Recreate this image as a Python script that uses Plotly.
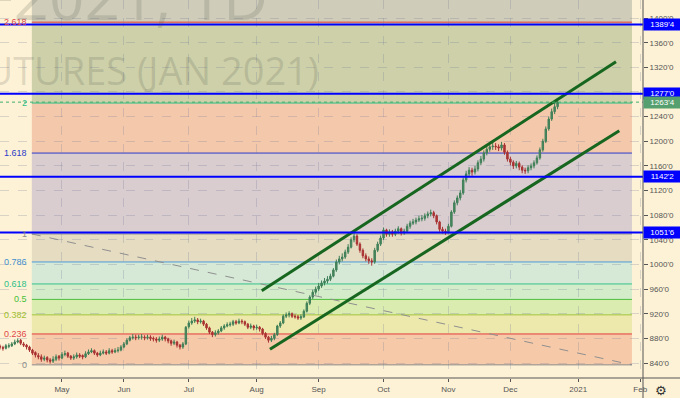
import pandas as pd
import plotly.graph_objects as go

# ---------------- data ----------------
open_ = [864, 867, 865, 864, 867, 868, 871, 874, 877, 871, 869, 866, 861, 857, 852, 850, 846, 849, 845, 843,
         846, 851, 848, 854, 856, 851, 848, 850, 853, 852, 850, 855, 858, 860, 856, 853, 856, 858, 856, 860,
         858, 860, 861, 866, 871, 877, 881, 882, 881, 882, 882, 881, 882, 880, 879, 877, 879, 882, 879, 876,
         872, 874, 869, 866, 871, 899, 905, 908, 910, 907, 908, 903, 897, 890, 886, 889, 892, 897, 900, 902,
         903, 907, 905, 908, 907, 903, 898, 900, 897, 898, 895, 888, 882, 877, 880, 886, 900, 905, 916, 918,
         920, 916, 915, 913, 915, 924, 937, 947, 955, 960, 965, 970, 973, 976, 981, 991, 1004, 1009, 1012, 1020,
         1028, 1040, 1046, 1033, 1023, 1014, 1009, 1006, 1004, 1023, 1033, 1043, 1056, 1049, 1053, 1049, 1054, 1058, 1051, 1054,
         1062, 1067, 1069, 1072, 1074, 1075, 1079, 1082, 1084, 1079, 1069, 1057, 1054, 1053, 1062, 1085, 1100, 1108, 1116, 1137,
         1147, 1153, 1150, 1155, 1165, 1171, 1181, 1187, 1191, 1192, 1191, 1189, 1194, 1182, 1171, 1166, 1160, 1164, 1158, 1153,
         1152, 1157, 1160, 1165, 1173, 1186, 1200, 1220, 1236, 1248, 1256]
close = [866, 866, 864, 868, 868, 871, 874, 876, 872, 869, 866, 861, 856, 853, 850, 846, 848, 845, 843, 846,
         850, 848, 854, 855, 851, 848, 850, 853, 851, 850, 855, 858, 860, 856, 853, 856, 858, 856, 860, 858,
         860, 861, 866, 871, 877, 881, 882, 881, 882, 882, 881, 882, 880, 879, 877, 879, 882, 879, 876, 872,
         874, 869, 866, 871, 898, 905, 908, 910, 907, 908, 903, 897, 890, 886, 889, 892, 897, 900, 902, 903,
         907, 905, 908, 907, 903, 898, 900, 897, 898, 895, 888, 882, 877, 880, 886, 900, 905, 916, 918, 920,
         916, 915, 913, 915, 924, 937, 947, 955, 960, 965, 970, 973, 976, 981, 991, 1004, 1009, 1012, 1020, 1028,
         1040, 1046, 1033, 1023, 1014, 1009, 1006, 1004, 1023, 1033, 1043, 1056, 1049, 1053, 1049, 1054, 1058, 1051, 1054, 1062,
         1067, 1069, 1072, 1074, 1075, 1079, 1082, 1084, 1079, 1069, 1057, 1054, 1053, 1062, 1085, 1100, 1108, 1116, 1137, 1147,
         1153, 1150, 1155, 1165, 1171, 1181, 1187, 1191, 1192, 1191, 1189, 1194, 1182, 1171, 1166, 1160, 1164, 1158, 1153, 1152,
         1157, 1160, 1165, 1173, 1186, 1200, 1220, 1236, 1248, 1256, 1263.5]
high = [869, 870, 868, 871, 872, 874, 878, 880, 879, 874, 871, 868, 863, 859, 856, 854, 852, 851, 848, 851,
        854, 853, 858, 860, 858, 853, 854, 857, 856, 854, 859, 862, 864, 862, 858, 860, 862, 861, 864, 863,
        864, 866, 869, 874, 880, 884, 887, 886, 886, 887, 885, 886, 885, 883, 882, 883, 886, 884, 881, 878,
        878, 876, 871, 874, 900, 909, 913, 915, 913, 912, 910, 905, 899, 892, 893, 895, 900, 903, 906, 907,
        910, 910, 912, 911, 909, 905, 904, 902, 902, 900, 897, 890, 884, 884, 889, 902, 908, 919, 922, 924,
        922, 919, 918, 919, 927, 940, 950, 959, 964, 970, 974, 978, 981, 985, 994, 1008, 1014, 1018, 1024, 1033,
        1044, 1052, 1049, 1036, 1026, 1018, 1013, 1010, 1027, 1037, 1047, 1060, 1058, 1057, 1056, 1058, 1062, 1060, 1058, 1066,
        1071, 1074, 1076, 1079, 1080, 1083, 1086, 1089, 1087, 1081, 1071, 1061, 1058, 1066, 1088, 1104, 1112, 1121, 1141, 1152,
        1158, 1157, 1160, 1169, 1176, 1185, 1192, 1197, 1198, 1197, 1195, 1199, 1197, 1185, 1175, 1169, 1168, 1167, 1161, 1157,
        1161, 1164, 1169, 1177, 1190, 1204, 1224, 1240, 1253, 1262, 1268]
low = [861, 862, 860, 862, 864, 866, 869, 872, 869, 866, 862, 858, 853, 849, 846, 842, 843, 841, 839, 840,
       843, 844, 846, 851, 848, 845, 845, 847, 848, 846, 848, 853, 856, 853, 850, 851, 854, 853, 854, 855,
       856, 857, 859, 864, 869, 875, 878, 877, 878, 878, 877, 878, 876, 875, 873, 874, 876, 875, 872, 868,
       869, 865, 862, 863, 869, 896, 902, 905, 903, 904, 900, 894, 887, 882, 883, 886, 890, 894, 898, 899,
       900, 902, 903, 903, 900, 895, 895, 893, 894, 891, 885, 879, 873, 874, 877, 884, 897, 903, 913, 914,
       913, 912, 910, 910, 913, 922, 934, 944, 951, 957, 962, 966, 969, 973, 979, 988, 1000, 1005, 1009, 1017,
       1026, 1036, 1030, 1019, 1010, 1005, 1001, 998, 1001, 1020, 1030, 1040, 1045, 1045, 1045, 1046, 1050, 1047, 1048, 1051,
       1058, 1064, 1065, 1069, 1070, 1071, 1075, 1078, 1075, 1065, 1053, 1050, 1048, 1050, 1060, 1082, 1096, 1104, 1113, 1133,
       1143, 1144, 1146, 1151, 1161, 1167, 1177, 1183, 1186, 1186, 1184, 1185, 1178, 1167, 1161, 1155, 1156, 1153, 1148, 1147,
       1148, 1153, 1156, 1162, 1170, 1183, 1197, 1217, 1233, 1244, 1252]
dates = pd.bdate_range("2020-04-01", periods=len(close))

x_tick_dates = ["2020-04-01", "2020-05-01", "2020-06-01", "2020-07-01", "2020-08-03", "2020-09-01",
                "2020-10-01", "2020-11-02", "2020-12-01", "2021-01-01", "2021-02-01"]
x_tick_labels = ["Apr", "May", "Jun", "Jul", "Aug", "Sep", "Oct", "Nov", "Dec", "2021", "Feb"]
y_tick_vals = [840, 880, 920, 960, 1000, 1040, 1080, 1120, 1160, 1200, 1240, 1280, 1320, 1360, 1400]
y_tick_labels = [f"{v}'0" for v in y_tick_vals]

# Fibonacci drawing
fib_p0 = 837.0
fib_p1 = 1049.5
fib_start = "2020-04-16 19:00"
fib_end = "2021-01-27 05:00"
fib_levels = [0, 0.236, 0.382, 0.5, 0.618, 0.786, 1, 1.618, 2, 2.618, 3.618]
fib_line_colors = ["#8a8a8a", "#e23b3b", "#a2c23a", "#4cbf3c", "#34c28a", "#4a9bd6", "#8a8a8a",
                   "#2b3bc9", "#2fbf86", "#e53935", None]
fib_label_colors = ["#8c8c8c", "#e04848", "#9ebe2c", "#45c03a", "#2ebf88", "#3f8fd0", "#8c8c8c",
                    "#2b3bc9", "#2fbf86", "#e04848", None]
fib_fill_colors = ["#f6caa9", "#ede9ad", "#dbecb0", "#d4ecca", "#d5e9d6", "#e6dcc2", "#d9cdcf",
                   "#f4c9ab", "#cdd0a8", "#cfcdb9"]

# Channel lines
upper_dates = ["2020-08-04 17:00", "2021-01-19 19:00"]
upper_prices = [957.4, 1329.1]
lower_dates = ["2020-08-07 12:00", "2021-01-20 22:00"]
lower_prices = [862.2, 1217.1]

# Horizontal levels
h_levels = [1389.5, 1277.0, 1142.25, 1051.75]
last_price = 1263.5

watermark_1 = "ZSF2021, 1D"
watermark_2 = "SOYBEAN FUTURES (JAN 2021)"

BG = "#fdf2d5"
FONT = "Liberation Sans"


def fmt8(p):
    w = int(p)
    e = int(round((p - w) * 8))
    return f"{w}'{e}"


def fib_price(f):
    return fib_p0 + f * (fib_p1 - fib_p0)


fig = go.Figure()

shapes = []
annotations = []

# fib fills
for i in range(len(fib_levels) - 1):
    shapes.append(dict(type="rect", xref="x", yref="y", x0=fib_start, x1=fib_end,
                       y0=fib_price(fib_levels[i]), y1=fib_price(fib_levels[i + 1]),
                       fillcolor=fib_fill_colors[i], line=dict(width=0), layer="below"))
# fib lines + labels
for f, lc, tc in zip(fib_levels, fib_line_colors, fib_label_colors):
    if lc is None:
        continue
    shapes.append(dict(type="line", xref="x", yref="y", x0=fib_start, x1=fib_end,
                       y0=fib_price(f), y1=fib_price(f), line=dict(color=lc, width=1), layer="below"))
    annotations.append(dict(xref="x", yref="y", x=fib_start, y=fib_price(f), text=f"{f:g}",
                            showarrow=False, xanchor="right", yanchor="middle", xshift=-3,
                            font=dict(family=FONT, size=9, color=tc)))

# candles
fig.add_trace(go.Candlestick(
    x=dates, open=open_, high=high, low=low, close=close,
    increasing=dict(line=dict(color="#3f7f57", width=1), fillcolor="#4a8a62"),
    decreasing=dict(line=dict(color="#a83232", width=1), fillcolor="#b33434"),
    whiskerwidth=0,
    hoverinfo="skip", showlegend=False))

# fib trend (dashed)
fig.add_trace(go.Scatter(x=[fib_start, fib_end], y=[fib_p1, fib_p0], mode="lines",
                         line=dict(color="#8f8f8f", width=1, dash="dash"),
                         hoverinfo="skip", showlegend=False))

# channel
for dx, py in ((upper_dates, upper_prices), (lower_dates, lower_prices)):
    fig.add_trace(go.Scatter(x=dx, y=py, mode="lines", line=dict(color="#17661f", width=3),
                             hoverinfo="skip", showlegend=False))

# horizontal blue lines
for lv in h_levels:
    shapes.append(dict(type="line", xref="paper", yref="y", x0=0, x1=1, y0=lv, y1=lv,
                       line=dict(color="#0000ff", width=2), layer="above"))
    annotations.append(dict(xref="paper", yref="y", x=1, y=lv, text=fmt8(lv), showarrow=False,
                            xanchor="left", yanchor="middle", width=35, height=9, borderpad=1,
                            bgcolor="#0000ff", font=dict(family=FONT, size=8, color="white")))

# last price dotted line
shapes.append(dict(type="line", xref="paper", yref="y", x0=0, x1=1, y0=last_price, y1=last_price,
                   line=dict(color="#3fae72", width=1, dash="dot"), layer="above"))
annotations.append(dict(xref="paper", yref="y", x=1, y=last_price, text=fmt8(last_price), showarrow=False,
                        xanchor="left", yanchor="middle", width=35, height=9, borderpad=1,
                        bgcolor="#56a06f", font=dict(family=FONT, size=8, color="white")))

# axis frame lines extended
shapes.append(dict(type="line", xref="paper", yref="paper", x0=1, x1=1, y0=1, y1=-0.06,
                   line=dict(color="#555555", width=1), layer="above"))
shapes.append(dict(type="line", xref="paper", yref="paper", x0=0, x1=1.06, y0=0, y1=0,
                   line=dict(color="#555555", width=1), layer="above"))

# watermark
annotations.append(dict(xref="paper", yref="paper", x=270 / 643, y=1.01, text=watermark_1,
                        showarrow=False, xanchor="right", yanchor="middle",
                        font=dict(family="Open Sans", size=62, color="rgba(70,70,70,0.17)")))
annotations.append(dict(xref="paper", yref="paper", x=321 / 643, y=1 - 70 / 378, text=watermark_2,
                        showarrow=False, xanchor="right", yanchor="middle",
                        font=dict(family="Open Sans", size=38, color="rgba(70,70,70,0.17)")))

# gear icon
annotations.append(dict(xref="paper", yref="paper", x=661 / 643, y=1 - 390 / 378, text="⚙",
                        showarrow=False, xanchor="center", yanchor="middle",
                        font=dict(family="DejaVu Sans", size=13, color="#333333")))

fig.update_layout(
    width=680, height=398,
    margin=dict(l=0, r=37, t=0, b=20),
    paper_bgcolor=BG, plot_bgcolor=BG,
    shapes=shapes, annotations=annotations,
    showlegend=False,
    xaxis=dict(
        type="date", range=["2020-04-02 00:00", "2021-02-01 22:48"],
        rangebreaks=[dict(bounds=["sat", "mon"])],
        rangeslider=dict(visible=False),
        tickmode="array", tickvals=x_tick_dates, ticktext=x_tick_labels,
        showgrid=True, gridcolor="rgba(110,120,150,0.25)", griddash="dash", gridwidth=1,
        showline=False, ticks="outside", ticklen=3, tickcolor="#555555",
        tickfont=dict(family=FONT, size=8, color="#555555"), zeroline=False,
    ),
    yaxis=dict(
        side="right", range=[815.65, 1429.3],
        tickmode="array", tickvals=y_tick_vals, ticktext=y_tick_labels,
        showgrid=True, gridcolor="rgba(110,120,150,0.25)", griddash="dash", gridwidth=1,
        showline=False, ticks="outside", ticklen=4, tickcolor="#555555",
        tickfont=dict(family=FONT, size=8, color="#555555"), zeroline=False,
    ),
)

fig.write_html("out.html")
